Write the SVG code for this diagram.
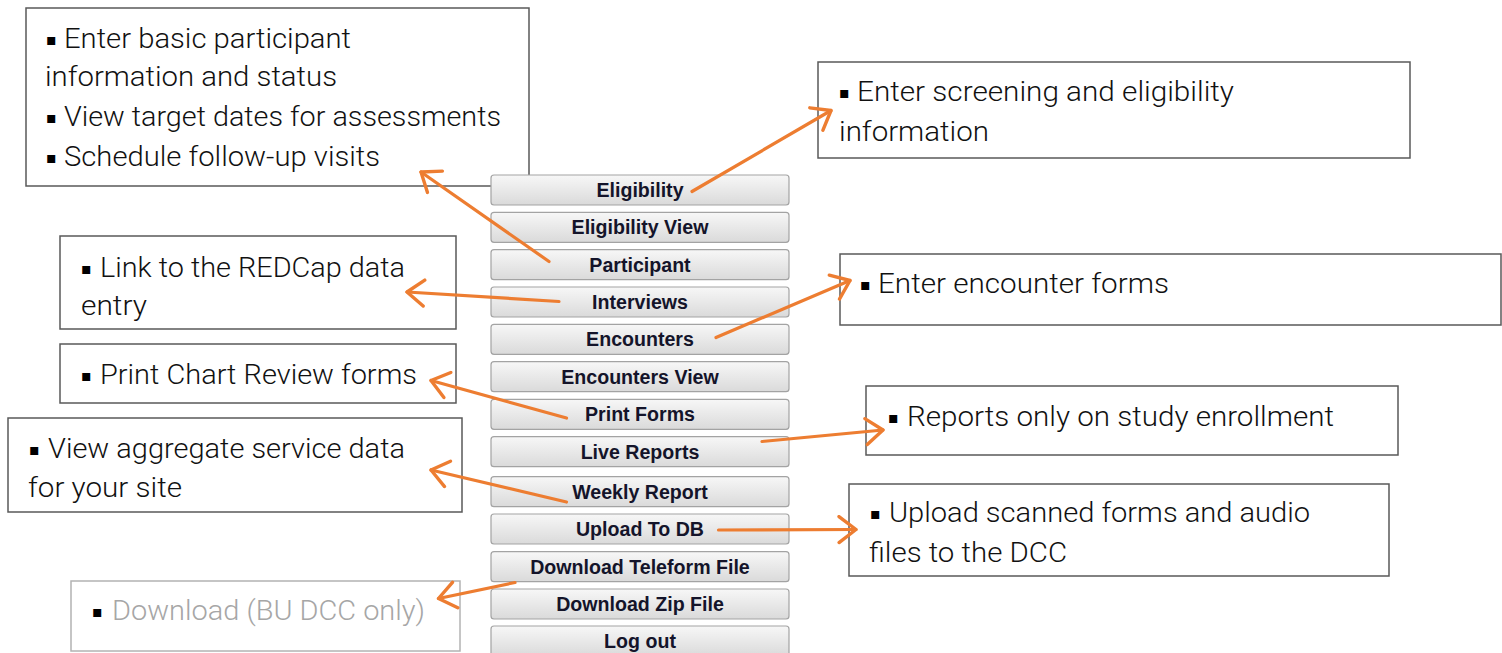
<svg xmlns="http://www.w3.org/2000/svg" width="1502" height="653" viewBox="0 0 1502 653">
<style>
.box{fill:#fff;stroke:#595959;stroke-width:1.5}
.boxg{fill:#fff;stroke:#b3b3b3;stroke-width:1.5}
.t{font-family:Roboto,"Liberation Sans",sans-serif;font-weight:300;font-size:28px;fill:#111}
.tg{font-family:Roboto,"Liberation Sans",sans-serif;font-weight:300;font-size:28px;fill:#a6a6a6}
.b{font-family:"DejaVu Sans",sans-serif;font-size:16px;fill:#000}
.btn{fill:url(#g);stroke:#a3a3a3;stroke-width:1.2}
.bt{font-family:"Liberation Sans",Arial,sans-serif;font-weight:bold;font-size:19.6px;fill:#14142a;text-anchor:middle}
.c{stroke:#ED7D31;stroke-width:3.2;fill:none;stroke-linecap:round;marker-end:url(#ah)}
</style>
<defs>
<linearGradient id="g" x1="0" y1="0" x2="0" y2="1">
<stop offset="0" stop-color="#f7f7f7"/>
<stop offset="1" stop-color="#dadada"/>
</linearGradient>
<marker id="ah" markerUnits="userSpaceOnUse" viewBox="0 0 24 30" refX="21" refY="15" markerWidth="24" markerHeight="30" orient="auto">
<path d="M4,2 L21,15 L4,28" fill="none" stroke="#ED7D31" stroke-width="3.4" stroke-linecap="round" stroke-linejoin="round"/>
</marker>
</defs>

<g id="box-participant">
<rect class="box" x="26" y="8" width="503" height="178"/>
<text class="b" x="46" y="45">▪</text><text class="t" x="64" y="48" textLength="287" lengthAdjust="spacingAndGlyphs">Enter basic participant</text>
<text class="t" x="45" y="86" textLength="292" lengthAdjust="spacingAndGlyphs">information and status</text>
<text class="b" x="46" y="123">▪</text><text class="t" x="64" y="126" textLength="437" lengthAdjust="spacingAndGlyphs">View target dates for assessments</text>
<text class="b" x="46" y="163">▪</text><text class="t" x="64" y="166" textLength="316" lengthAdjust="spacingAndGlyphs">Schedule follow-up visits</text>
</g>

<g id="box-eligibility">
<rect class="box" x="818" y="62" width="592" height="96"/>
<text class="b" x="839" y="98">▪</text><text class="t" x="857" y="101" textLength="377" lengthAdjust="spacingAndGlyphs">Enter screening and eligibility</text>
<text class="t" x="839" y="141" textLength="150" lengthAdjust="spacingAndGlyphs">information</text>
</g>

<g id="box-redcap">
<rect class="box" x="60" y="236" width="396" height="93"/>
<text class="b" x="81" y="274">▪</text><text class="t" x="100" y="277" textLength="305" lengthAdjust="spacingAndGlyphs">Link to the REDCap data</text>
<text class="t" x="81" y="315" textLength="66" lengthAdjust="spacingAndGlyphs">entry</text>
</g>

<g id="box-encounter">
<rect class="box" x="840" y="254" width="661" height="71"/>
<text class="b" x="860" y="290">▪</text><text class="t" x="878" y="293" textLength="291" lengthAdjust="spacingAndGlyphs">Enter encounter forms</text>
</g>

<g id="box-print">
<rect class="box" x="60" y="344" width="396" height="59"/>
<text class="b" x="81" y="381">▪</text><text class="t" x="100" y="384" textLength="317" lengthAdjust="spacingAndGlyphs">Print Chart Review forms</text>
</g>

<g id="box-reports">
<rect class="box" x="866" y="386" width="532" height="69"/>
<text class="b" x="888" y="423">▪</text><text class="t" x="907" y="426" textLength="427" lengthAdjust="spacingAndGlyphs">Reports only on study enrollment</text>
</g>

<g id="box-aggregate">
<rect class="box" x="8" y="418" width="454" height="94"/>
<text class="b" x="29" y="455">▪</text><text class="t" x="48" y="458" textLength="357" lengthAdjust="spacingAndGlyphs">View aggregate service data</text>
<text class="t" x="28" y="497" textLength="154" lengthAdjust="spacingAndGlyphs">for your site</text>
</g>

<g id="box-upload">
<rect class="box" x="849" y="484" width="540" height="92"/>
<text class="b" x="870" y="519">▪</text><text class="t" x="889" y="522" textLength="421" lengthAdjust="spacingAndGlyphs">Upload scanned forms and audio</text>
<text class="t" x="869" y="562" textLength="198" lengthAdjust="spacingAndGlyphs">files to the DCC</text>
</g>

<g id="box-download">
<rect class="boxg" x="71" y="581" width="389" height="70"/>
<text class="b" x="92" y="617">▪</text><text class="tg" x="112" y="620" textLength="313" lengthAdjust="spacingAndGlyphs">Download (BU DCC only)</text>
</g>

<g id="menu">
<g id="btn-eligibility"><rect class="btn" x="491" y="175" width="298" height="30" rx="3"/><text class="bt" x="640" y="197">Eligibility</text></g>
<g id="btn-eligibility-view"><rect class="btn" x="491" y="212.3" width="298" height="30" rx="3"/><text class="bt" x="640" y="234.3">Eligibility View</text></g>
<g id="btn-participant"><rect class="btn" x="491" y="249.7" width="298" height="30" rx="3"/><text class="bt" x="640" y="271.7">Participant</text></g>
<g id="btn-interviews"><rect class="btn" x="491" y="287" width="298" height="30" rx="3"/><text class="bt" x="640" y="309">Interviews</text></g>
<g id="btn-encounters"><rect class="btn" x="491" y="324.3" width="298" height="30" rx="3"/><text class="bt" x="640" y="346.3">Encounters</text></g>
<g id="btn-encounters-view"><rect class="btn" x="491" y="361.7" width="298" height="30" rx="3"/><text class="bt" x="640" y="383.7">Encounters View</text></g>
<g id="btn-print-forms"><rect class="btn" x="491" y="399.3" width="298" height="30" rx="3"/><text class="bt" x="640" y="421.3">Print Forms</text></g>
<g id="btn-live-reports"><rect class="btn" x="491" y="436.7" width="298" height="30" rx="3"/><text class="bt" x="640" y="458.7">Live Reports</text></g>
<g id="btn-weekly-report"><rect class="btn" x="491" y="476.7" width="298" height="30" rx="3"/><text class="bt" x="640" y="498.7">Weekly Report</text></g>
<g id="btn-upload"><rect class="btn" x="491" y="514" width="298" height="30" rx="3"/><text class="bt" x="640" y="536">Upload To DB</text></g>
<g id="btn-download-teleform"><rect class="btn" x="491" y="551.7" width="298" height="30" rx="3"/><text class="bt" x="640" y="573.7">Download Teleform File</text></g>
<g id="btn-download-zip"><rect class="btn" x="491" y="589" width="298" height="30" rx="3"/><text class="bt" x="640" y="611">Download Zip File</text></g>
<g id="btn-logout"><rect class="btn" x="491" y="626" width="298" height="30" rx="3"/><text class="bt" x="640" y="648">Log out</text></g>
</g>

<g id="connectors">
<line class="c" x1="692" y1="191.5" x2="831" y2="110.5"/>
<line class="c" x1="549" y1="261.5" x2="421" y2="172"/>
<line class="c" x1="559" y1="301.5" x2="407" y2="292"/>
<line class="c" x1="716" y1="337.5" x2="850" y2="280.5"/>
<line class="c" x1="566.5" y1="418" x2="431" y2="380.5"/>
<line class="c" x1="566.5" y1="502" x2="431" y2="470"/>
<line class="c" x1="762" y1="441.5" x2="883" y2="430"/>
<line class="c" x1="718.5" y1="530" x2="856" y2="529.5"/>
<line class="c" x1="515" y1="582.5" x2="438.5" y2="598.5"/>
</g>
</svg>
